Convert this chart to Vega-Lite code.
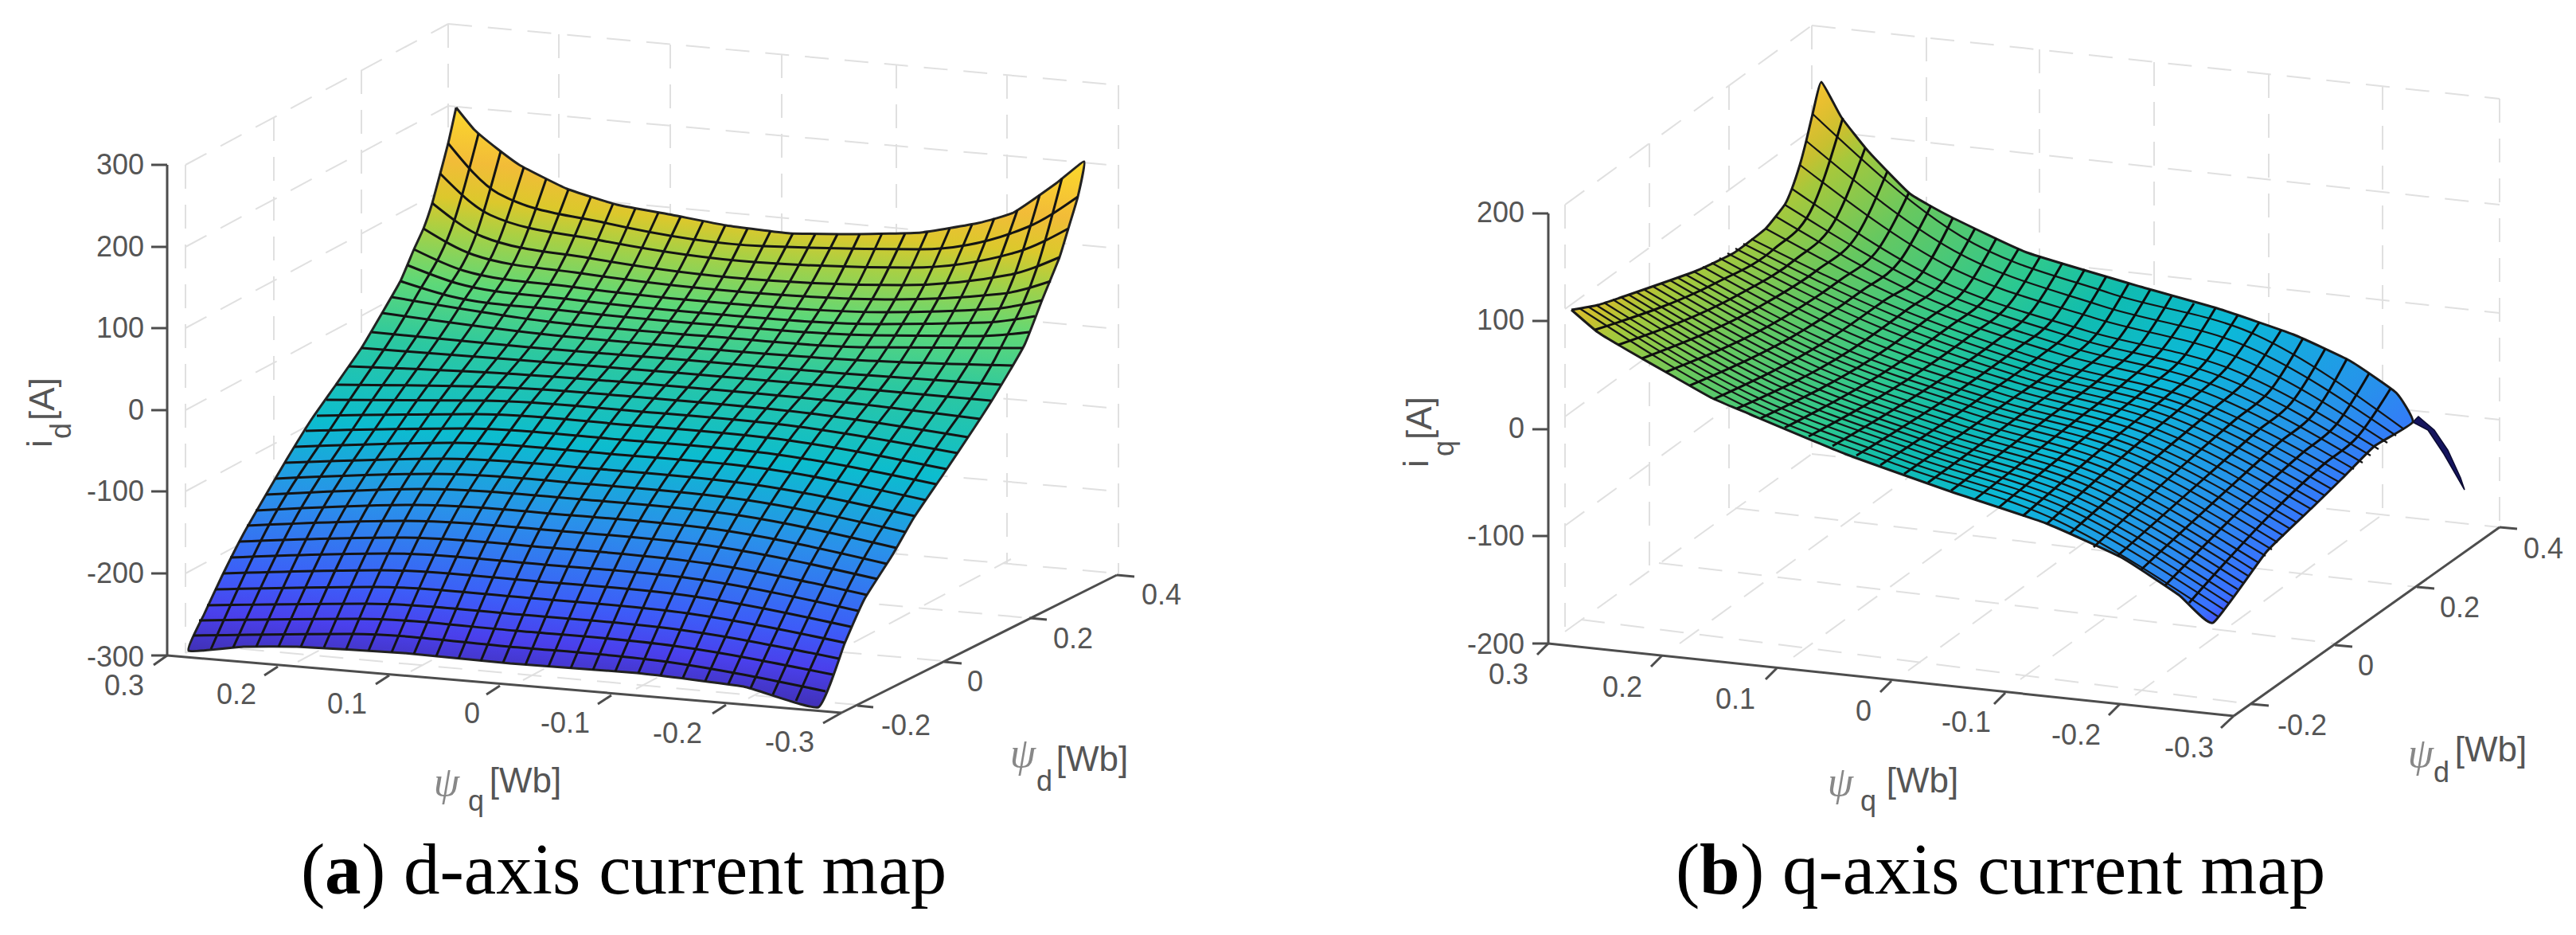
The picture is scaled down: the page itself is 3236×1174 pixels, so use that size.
{"$schema":"https://vega.github.io/schema/vega-lite/v6.json","width":3236,"height":1174,"padding":0,"autosize":{"type":"fit","contains":"padding"},"background":"#ffffff","config":{"view":{"stroke":null}},
"encoding":{"x":{"field":"x","type":"quantitative","scale":{"domain":[0,3236],"nice":false,"zero":false},"axis":null},"y":{"field":"y","type":"quantitative","scale":{"domain":[1174,0],"nice":false,"zero":false},"axis":null}},
"datasets":{
"box":[
{"l":"a1","x":233,"y":207},{"l":"a1","x":563,"y":30},{"l":"a2","x":233,"y":310},{"l":"a2","x":563,"y":133},{"l":"a3","x":233,"y":412},{"l":"a3","x":563,"y":235},{"l":"a4","x":233,"y":515},{"l":"a4","x":563,"y":338},{"l":"a5","x":233,"y":617},{"l":"a5","x":563,"y":440},{"l":"a6","x":233,"y":720},{"l":"a6","x":563,"y":543},{"l":"a7","x":233,"y":820},{"l":"a7","x":563,"y":646},
{"l":"a8","x":233,"y":207},{"l":"a8","x":233,"y":820},{"l":"a9","x":344,"y":147},{"l":"a9","x":344,"y":760},{"l":"a10","x":454,"y":88},{"l":"a10","x":454,"y":705},{"l":"a11","x":563,"y":30},{"l":"a11","x":563,"y":646},
{"l":"a12","x":563,"y":30},{"l":"a12","x":1405,"y":107},{"l":"a13","x":563,"y":133},{"l":"a13","x":1405,"y":208},{"l":"a14","x":563,"y":235},{"l":"a14","x":1405,"y":312},{"l":"a15","x":563,"y":338},{"l":"a15","x":1405,"y":413},{"l":"a16","x":563,"y":440},{"l":"a16","x":1405,"y":513},{"l":"a17","x":563,"y":543},{"l":"a17","x":1405,"y":617},{"l":"a18","x":563,"y":646},{"l":"a18","x":1405,"y":720},
{"l":"a19","x":702,"y":43},{"l":"a19","x":702,"y":658},{"l":"a20","x":842,"y":56},{"l":"a20","x":842,"y":671},{"l":"a21","x":982,"y":68},{"l":"a21","x":982,"y":683},{"l":"a22","x":1126,"y":81},{"l":"a22","x":1126,"y":696},{"l":"a23","x":1265,"y":94},{"l":"a23","x":1265,"y":708},{"l":"a24","x":1405,"y":107},{"l":"a24","x":1405,"y":720},
{"l":"a25","x":252,"y":810},{"l":"a25","x":1077,"y":885},{"l":"a26","x":355,"y":758},{"l":"a26","x":1186,"y":830},{"l":"a27","x":457,"y":700},{"l":"a27","x":1293,"y":776},{"l":"a28","x":374,"y":831},{"l":"a28","x":704,"y":656},{"l":"a29","x":516,"y":843},{"l":"a29","x":846,"y":668},{"l":"a30","x":657,"y":854},{"l":"a30","x":987,"y":679},{"l":"a31","x":799,"y":865},{"l":"a31","x":1129,"y":690},{"l":"a32","x":940,"y":877},{"l":"a32","x":1270,"y":702},
{"l":"b1","x":1966,"y":257},{"l":"b1","x":2276,"y":32},{"l":"b2","x":1966,"y":388},{"l":"b2","x":2276,"y":163},{"l":"b3","x":1966,"y":523},{"l":"b3","x":2276,"y":298},{"l":"b4","x":1966,"y":660},{"l":"b4","x":2276,"y":435},{"l":"b5","x":1966,"y":793},{"l":"b5","x":2276,"y":570},
{"l":"b6","x":1966,"y":257},{"l":"b6","x":1966,"y":793},{"l":"b7","x":2072,"y":180},{"l":"b7","x":2072,"y":716},{"l":"b8","x":2172,"y":108},{"l":"b8","x":2172,"y":645},{"l":"b9","x":2276,"y":32},{"l":"b9","x":2276,"y":570},
{"l":"b10","x":2276,"y":32},{"l":"b10","x":3140,"y":124},{"l":"b11","x":2276,"y":163},{"l":"b11","x":3140,"y":257},{"l":"b12","x":2276,"y":298},{"l":"b12","x":3140,"y":393},{"l":"b13","x":2276,"y":435},{"l":"b13","x":3140,"y":527},{"l":"b14","x":2276,"y":570},{"l":"b14","x":3140,"y":662},
{"l":"b15","x":2420,"y":47},{"l":"b15","x":2420,"y":585},{"l":"b16","x":2562,"y":62},{"l":"b16","x":2562,"y":600},{"l":"b17","x":2706,"y":78},{"l":"b17","x":2706,"y":616},{"l":"b18","x":2850,"y":93},{"l":"b18","x":2850,"y":631},{"l":"b19","x":2993,"y":108},{"l":"b19","x":2993,"y":646},{"l":"b20","x":3140,"y":124},{"l":"b20","x":3140,"y":662},
{"l":"b21","x":1986,"y":778},{"l":"b21","x":2828,"y":884},{"l":"b22","x":2084,"y":707},{"l":"b22","x":2933,"y":808},{"l":"b23","x":2180,"y":638},{"l":"b23","x":3036,"y":737},
{"l":"b24","x":2110,"y":808},{"l":"b24","x":2420,"y":583},{"l":"b25","x":2253,"y":825},{"l":"b25","x":2563,"y":600},{"l":"b26","x":2397,"y":842},{"l":"b26","x":2707,"y":617},{"l":"b27","x":2538,"y":853},{"l":"b27","x":2850,"y":628},{"l":"b28","x":2682,"y":873},{"l":"b28","x":2993,"y":646}
],
"axes":[
{"l":"a1","x":210,"y":207},{"l":"a1","x":210,"y":823},{"l":"a2","x":210,"y":823},{"l":"a2","x":1057,"y":895},{"l":"a3","x":1057,"y":895},{"l":"a3","x":1403,"y":722},
{"l":"at1","x":190,"y":207},{"l":"at1","x":210,"y":207},{"l":"at2","x":190,"y":310},{"l":"at2","x":210,"y":310},{"l":"at3","x":190,"y":412},{"l":"at3","x":210,"y":412},{"l":"at4","x":190,"y":515},{"l":"at4","x":210,"y":515},{"l":"at5","x":190,"y":617},{"l":"at5","x":210,"y":617},{"l":"at6","x":190,"y":720},{"l":"at6","x":210,"y":720},{"l":"at7","x":190,"y":823},{"l":"at7","x":210,"y":823},
{"l":"aq1","x":193,"y":835},{"l":"aq1","x":210,"y":823},{"l":"aq2","x":332,"y":848},{"l":"aq2","x":349,"y":837},{"l":"aq3","x":472,"y":859},{"l":"aq3","x":489,"y":848},{"l":"aq4","x":611,"y":872},{"l":"aq4","x":628,"y":861},{"l":"aq5","x":751,"y":884},{"l":"aq5","x":768,"y":873},{"l":"aq6","x":895,"y":896},{"l":"aq6","x":912,"y":885},{"l":"aq7","x":1034,"y":908},{"l":"aq7","x":1057,"y":895},
{"l":"ad1","x":1077,"y":886},{"l":"ad1","x":1097,"y":888},{"l":"ad2","x":1186,"y":831},{"l":"ad2","x":1208,"y":833},{"l":"ad3","x":1293,"y":776},{"l":"ad3","x":1315,"y":778},{"l":"ad4","x":1403,"y":722},{"l":"ad4","x":1425,"y":724},
{"l":"b1","x":1945,"y":268},{"l":"b1","x":1945,"y":808},{"l":"b2","x":1945,"y":808},{"l":"b2","x":2806,"y":899},{"l":"b3","x":2806,"y":899},{"l":"b3","x":3140,"y":662},
{"l":"bt1","x":1925,"y":268},{"l":"bt1","x":1945,"y":268},{"l":"bt2","x":1925,"y":403},{"l":"bt2","x":1945,"y":403},{"l":"bt3","x":1925,"y":539},{"l":"bt3","x":1945,"y":539},{"l":"bt4","x":1925,"y":673},{"l":"bt4","x":1945,"y":673},{"l":"bt5","x":1925,"y":808},{"l":"bt5","x":1945,"y":808},
{"l":"bq1","x":1931,"y":822},{"l":"bq1","x":1945,"y":808},{"l":"bq2","x":2074,"y":837},{"l":"bq2","x":2088,"y":823},{"l":"bq3","x":2218,"y":853},{"l":"bq3","x":2232,"y":839},{"l":"bq4","x":2362,"y":869},{"l":"bq4","x":2376,"y":855},{"l":"bq5","x":2505,"y":884},{"l":"bq5","x":2519,"y":870},{"l":"bq6","x":2649,"y":898},{"l":"bq6","x":2663,"y":884},{"l":"bq7","x":2790,"y":914},{"l":"bq7","x":2806,"y":899},
{"l":"bd1","x":2828,"y":884},{"l":"bd1","x":2850,"y":886},{"l":"bd2","x":2933,"y":810},{"l":"bd2","x":2955,"y":812},{"l":"bd3","x":3036,"y":737},{"l":"bd3","x":3058,"y":739},{"l":"bd4","x":3140,"y":662},{"l":"bd4","x":3162,"y":664}
],
"surfaceA":[{"x":573,"y":135},{"x":596,"y":163},{"x":625,"y":187},{"x":654,"y":208},{"x":712,"y":237},{"x":775,"y":257},{"x":845,"y":270},{"x":912,"y":283},{"x":992,"y":293},{"x":1077,"y":294},{"x":1157,"y":292},{"x":1229,"y":280},{"x":1273,"y":267},{"x":1327,"y":230},{"x":1362,"y":203},{"x":1354,"y":247},{"x":1342,"y":287},{"x":1331,"y":323},{"x":1309,"y":377},{"x":1287,"y":433},{"x":1249,"y":498},{"x":1224,"y":537},{"x":1184,"y":597},{"x":1148,"y":650},{"x":1121,"y":697},{"x":1086,"y":752},{"x":1061,"y":808},{"x":1028,"y":888},{"x":934,"y":862},{"x":800,"y":845},{"x":641,"y":833},{"x":507,"y":820},{"x":373,"y":812},{"x":306,"y":812},{"x":237,"y":817},{"x":257,"y":770},{"x":279,"y":723},{"x":306,"y":670},{"x":333,"y":623},{"x":360,"y":577},{"x":391,"y":527},{"x":422,"y":483},{"x":454,"y":437},{"x":480,"y":393},{"x":503,"y":353},{"x":520,"y":313},{"x":532,"y":287},{"x":543,"y":255},{"x":553,"y":218},{"x":563,"y":180},{"x":573,"y":135}],
"surfaceB":[{"x":1974,"y":389},{"x":2007,"y":417},{"x":2045,"y":440},{"x":2103,"y":473},{"x":2151,"y":500},{"x":2198,"y":520},{"x":2318,"y":570},{"x":2450,"y":617},{"x":2570,"y":657},{"x":2665,"y":700},{"x":2737,"y":747},{"x":2780,"y":782},{"x":2847,"y":693},{"x":2905,"y":637},{"x":2943,"y":600},{"x":2983,"y":560},{"x":3031,"y":530},{"x":3010,"y":493},{"x":2952,"y":453},{"x":2881,"y":420},{"x":2785,"y":387},{"x":2689,"y":360},{"x":2546,"y":317},{"x":2450,"y":272},{"x":2399,"y":243},{"x":2347,"y":190},{"x":2313,"y":147},{"x":2288,"y":103},{"x":2277,"y":143},{"x":2269,"y":177},{"x":2261,"y":207},{"x":2251,"y":237},{"x":2242,"y":257},{"x":2218,"y":287},{"x":2179,"y":317},{"x":2131,"y":340},{"x":2055,"y":367},{"x":2007,"y":383},{"x":1974,"y":389}],
"flapB":[{"x":3031,"y":530},{"x":3038,"y":523},{"x":3058,"y":540},{"x":3075,"y":565},{"x":3091,"y":600},{"x":3096,"y":615},{"x":3070,"y":570},{"x":3050,"y":540},{"x":3031,"y":530}],
"meshA":[
{"l":"r1","x":563,"y":180},{"l":"r1","x":626,"y":243},{"l":"r1","x":761,"y":280},{"l":"r1","x":958,"y":309},{"l":"r1","x":1156,"y":313},{"l":"r1","x":1291,"y":285},{"l":"r1","x":1354,"y":247},
{"l":"r2","x":553,"y":218},{"l":"r2","x":616,"y":270},{"l":"r2","x":750,"y":301},{"l":"r2","x":947,"y":329},{"l":"r2","x":1144,"y":336},{"l":"r2","x":1279,"y":316},{"l":"r2","x":1342,"y":287},
{"l":"r3","x":543,"y":255},{"l":"r3","x":606,"y":297},{"l":"r3","x":740,"y":324},{"l":"r3","x":937,"y":350},{"l":"r3","x":1134,"y":358},{"l":"r3","x":1268,"y":345},{"l":"r3","x":1331,"y":323},
{"l":"r4","x":532,"y":287},{"l":"r4","x":595,"y":320},{"l":"r4","x":729,"y":343},{"l":"r4","x":926,"y":366},{"l":"r4","x":1123,"y":376},{"l":"r4","x":1257,"y":369},{"l":"r4","x":1320,"y":353},
{"l":"r5","x":520,"y":313},{"l":"r5","x":583,"y":340},{"l":"r5","x":717,"y":360},{"l":"r5","x":915,"y":381},{"l":"r5","x":1112,"y":392},{"l":"r5","x":1246,"y":388},{"l":"r5","x":1309,"y":377},
{"l":"r6","x":512,"y":333},{"l":"r6","x":575,"y":356},{"l":"r6","x":709,"y":375},{"l":"r6","x":906,"y":395},{"l":"r6","x":1103,"y":407},{"l":"r6","x":1237,"y":405},{"l":"r6","x":1300,"y":397},
{"l":"r7","x":503,"y":353},{"l":"r7","x":566,"y":372},{"l":"r7","x":700,"y":389},{"l":"r7","x":898,"y":408},{"l":"r7","x":1096,"y":421},{"l":"r7","x":1230,"y":422},{"l":"r7","x":1293,"y":417},
{"l":"r8","x":492,"y":373},{"l":"r8","x":690,"y":404},{"l":"r8","x":888,"y":422},{"l":"r8","x":1087,"y":436},{"l":"r8","x":1285,"y":437},
{"l":"r9","x":480,"y":393},{"l":"r9","x":678,"y":419},{"l":"r9","x":876,"y":437},{"l":"r9","x":1074,"y":452},{"l":"r9","x":1272,"y":459},
{"l":"r10","x":467,"y":417},{"l":"r10","x":664,"y":436},{"l":"r10","x":862,"y":452},{"l":"r10","x":1060,"y":469},{"l":"r10","x":1257,"y":483},
{"l":"r11","x":454,"y":437},{"l":"r11","x":652,"y":452},{"l":"r11","x":850,"y":468},{"l":"r11","x":1047,"y":485},{"l":"r11","x":1245,"y":503},
{"l":"r12","x":438,"y":460},{"l":"r12","x":636,"y":469},{"l":"r12","x":835,"y":484},{"l":"r12","x":1033,"y":502},{"l":"r12","x":1231,"y":526},
{"l":"r13","x":422,"y":483},{"l":"r13","x":620,"y":486},{"l":"r13","x":819,"y":500},{"l":"r13","x":1017,"y":519},{"l":"r13","x":1216,"y":549},
{"l":"r14","x":410,"y":502},{"l":"r14","x":608,"y":503},{"l":"r14","x":807,"y":517},{"l":"r14","x":1005,"y":536},{"l":"r14","x":1203,"y":569},
{"l":"r15","x":398,"y":522},{"l":"r15","x":596,"y":520},{"l":"r15","x":794,"y":534},{"l":"r15","x":991,"y":553},{"l":"r15","x":1189,"y":589},
{"l":"r16","x":384,"y":541},{"l":"r16","x":582,"y":538},{"l":"r16","x":780,"y":552},{"l":"r16","x":978,"y":571},{"l":"r16","x":1176,"y":608},
{"l":"r17","x":370,"y":561},{"l":"r17","x":568,"y":556},{"l":"r17","x":767,"y":570},{"l":"r17","x":965,"y":589},{"l":"r17","x":1163,"y":628},
{"l":"r18","x":358,"y":581},{"l":"r18","x":556,"y":576},{"l":"r18","x":754,"y":589},{"l":"r18","x":951,"y":609},{"l":"r18","x":1149,"y":648},
{"l":"r19","x":346,"y":601},{"l":"r19","x":544,"y":595},{"l":"r19","x":742,"y":608},{"l":"r19","x":939,"y":628},{"l":"r19","x":1137,"y":668},
{"l":"r20","x":334,"y":621},{"l":"r20","x":532,"y":614},{"l":"r20","x":730,"y":627},{"l":"r20","x":928,"y":647},{"l":"r20","x":1126,"y":688},
{"l":"r21","x":321,"y":641},{"l":"r21","x":519,"y":634},{"l":"r21","x":718,"y":647},{"l":"r21","x":916,"y":667},{"l":"r21","x":1114,"y":708},
{"l":"r22","x":310,"y":660},{"l":"r22","x":508,"y":654},{"l":"r22","x":706,"y":667},{"l":"r22","x":904,"y":687},{"l":"r22","x":1102,"y":727},
{"l":"r23","x":300,"y":680},{"l":"r23","x":497,"y":675},{"l":"r23","x":695,"y":688},{"l":"r23","x":892,"y":708},{"l":"r23","x":1089,"y":747},
{"l":"r24","x":289,"y":700},{"l":"r24","x":486,"y":695},{"l":"r24","x":684,"y":709},{"l":"r24","x":881,"y":728},{"l":"r24","x":1078,"y":767},
{"l":"r25","x":280,"y":720},{"l":"r25","x":477,"y":716},{"l":"r25","x":675,"y":730},{"l":"r25","x":872,"y":749},{"l":"r25","x":1069,"y":787},
{"l":"r26","x":270,"y":740},{"l":"r26","x":468,"y":737},{"l":"r26","x":666,"y":751},{"l":"r26","x":863,"y":770},{"l":"r26","x":1061,"y":807},
{"l":"r27","x":260,"y":760},{"l":"r27","x":458,"y":758},{"l":"r27","x":657,"y":772},{"l":"r27","x":856,"y":791},{"l":"r27","x":1054,"y":827},
{"l":"r28","x":250,"y":779},{"l":"r28","x":449,"y":777},{"l":"r28","x":648,"y":792},{"l":"r28","x":847,"y":811},{"l":"r28","x":1046,"y":847},
{"l":"r29","x":243,"y":798},{"l":"r29","x":441,"y":796},{"l":"r29","x":640,"y":812},{"l":"r29","x":838,"y":831},{"l":"r29","x":1037,"y":868},
{"l":"c1","x":265,"y":815},{"l":"c1","x":338,"y":659},{"l":"c1","x":426,"y":522},{"l":"c1","x":520,"y":377},{"l":"c1","x":571,"y":276},{"l":"c1","x":601,"y":168},
{"l":"c2","x":293,"y":813},{"l":"c2","x":367,"y":658},{"l":"c2","x":455,"y":521},{"l":"c2","x":549,"y":382},{"l":"c2","x":599,"y":292},{"l":"c2","x":629,"y":190},
{"l":"c3","x":322,"y":812},{"l":"c3","x":395,"y":657},{"l":"c3","x":483,"y":521},{"l":"c3","x":577,"y":386},{"l":"c3","x":627,"y":301},{"l":"c3","x":658,"y":210},
{"l":"c4","x":350,"y":812},{"l":"c4","x":423,"y":657},{"l":"c4","x":511,"y":521},{"l":"c4","x":605,"y":391},{"l":"c4","x":656,"y":307},{"l":"c4","x":686,"y":225},
{"l":"c5","x":378,"y":812},{"l":"c5","x":451,"y":656},{"l":"c5","x":539,"y":521},{"l":"c5","x":633,"y":395},{"l":"c5","x":684,"y":313},{"l":"c5","x":714,"y":238},
{"l":"c6","x":407,"y":813},{"l":"c6","x":480,"y":655},{"l":"c6","x":568,"y":520},{"l":"c6","x":662,"y":400},{"l":"c6","x":712,"y":318},{"l":"c6","x":742,"y":248},
{"l":"c7","x":435,"y":815},{"l":"c7","x":508,"y":654},{"l":"c7","x":596,"y":520},{"l":"c7","x":690,"y":404},{"l":"c7","x":740,"y":324},{"l":"c7","x":770,"y":256},
{"l":"c8","x":463,"y":817},{"l":"c8","x":536,"y":656},{"l":"c8","x":624,"y":522},{"l":"c8","x":718,"y":407},{"l":"c8","x":768,"y":328},{"l":"c8","x":798,"y":262},
{"l":"c9","x":492,"y":819},{"l":"c9","x":565,"y":658},{"l":"c9","x":653,"y":524},{"l":"c9","x":747,"y":409},{"l":"c9","x":796,"y":332},{"l":"c9","x":827,"y":267},
{"l":"c10","x":520,"y":821},{"l":"c10","x":593,"y":660},{"l":"c10","x":681,"y":526},{"l":"c10","x":775,"y":412},{"l":"c10","x":824,"y":335},{"l":"c10","x":855,"y":272},
{"l":"c11","x":548,"y":824},{"l":"c11","x":621,"y":661},{"l":"c11","x":709,"y":528},{"l":"c11","x":803,"y":414},{"l":"c11","x":853,"y":339},{"l":"c11","x":883,"y":278},
{"l":"c12","x":576,"y":827},{"l":"c12","x":649,"y":663},{"l":"c12","x":737,"y":530},{"l":"c12","x":831,"y":417},{"l":"c12","x":881,"y":343},{"l":"c12","x":911,"y":283},
{"l":"c13","x":604,"y":830},{"l":"c13","x":678,"y":665},{"l":"c13","x":766,"y":532},{"l":"c13","x":860,"y":419},{"l":"c13","x":909,"y":346},{"l":"c13","x":939,"y":287},
{"l":"c14","x":632,"y":832},{"l":"c14","x":706,"y":667},{"l":"c14","x":794,"y":534},{"l":"c14","x":888,"y":422},{"l":"c14","x":937,"y":350},{"l":"c14","x":968,"y":290},
{"l":"c15","x":660,"y":835},{"l":"c15","x":734,"y":670},{"l":"c15","x":822,"y":537},{"l":"c15","x":916,"y":424},{"l":"c15","x":965,"y":351},{"l":"c15","x":996,"y":293},
{"l":"c16","x":689,"y":837},{"l":"c16","x":763,"y":673},{"l":"c16","x":850,"y":539},{"l":"c16","x":945,"y":426},{"l":"c16","x":993,"y":352},{"l":"c16","x":1024,"y":294},
{"l":"c17","x":717,"y":839},{"l":"c17","x":791,"y":676},{"l":"c17","x":879,"y":542},{"l":"c17","x":973,"y":428},{"l":"c17","x":1021,"y":353},{"l":"c17","x":1052,"y":294},
{"l":"c18","x":745,"y":841},{"l":"c18","x":819,"y":678},{"l":"c18","x":907,"y":545},{"l":"c18","x":1002,"y":430},{"l":"c18","x":1050,"y":355},{"l":"c18","x":1080,"y":294},
{"l":"c19","x":773,"y":843},{"l":"c19","x":847,"y":681},{"l":"c19","x":935,"y":547},{"l":"c19","x":1030,"y":432},{"l":"c19","x":1078,"y":356},{"l":"c19","x":1108,"y":293},
{"l":"c20","x":802,"y":845},{"l":"c20","x":876,"y":684},{"l":"c20","x":963,"y":550},{"l":"c20","x":1059,"y":434},{"l":"c20","x":1106,"y":357},{"l":"c20","x":1137,"y":293},
{"l":"c21","x":830,"y":848},{"l":"c21","x":904,"y":687},{"l":"c21","x":991,"y":553},{"l":"c21","x":1087,"y":436},{"l":"c21","x":1134,"y":358},{"l":"c21","x":1165,"y":291},
{"l":"c22","x":858,"y":851},{"l":"c22","x":932,"y":693},{"l":"c22","x":1019,"y":558},{"l":"c22","x":1115,"y":436},{"l":"c22","x":1162,"y":356},{"l":"c22","x":1193,"y":287},
{"l":"c23","x":886,"y":855},{"l":"c23","x":961,"y":698},{"l":"c23","x":1048,"y":563},{"l":"c23","x":1143,"y":436},{"l":"c23","x":1190,"y":353},{"l":"c23","x":1221,"y":282},
{"l":"c24","x":915,"y":859},{"l":"c24","x":989,"y":704},{"l":"c24","x":1076,"y":568},{"l":"c24","x":1172,"y":436},{"l":"c24","x":1218,"y":351},{"l":"c24","x":1249,"y":274},
{"l":"c25","x":943,"y":864},{"l":"c25","x":1017,"y":710},{"l":"c25","x":1104,"y":574},{"l":"c25","x":1200,"y":436},{"l":"c25","x":1247,"y":348},{"l":"c25","x":1278,"y":264},
{"l":"c26","x":971,"y":872},{"l":"c26","x":1045,"y":716},{"l":"c26","x":1132,"y":579},{"l":"c26","x":1228,"y":437},{"l":"c26","x":1275,"y":344},{"l":"c26","x":1306,"y":245},
{"l":"c27","x":1000,"y":880},{"l":"c27","x":1074,"y":721},{"l":"c27","x":1161,"y":584},{"l":"c27","x":1257,"y":437},{"l":"c27","x":1303,"y":335},{"l":"c27","x":1334,"y":224}
],
"longB":[
{"l":"j1","x":2277,"y":143},{"l":"j1","x":2464,"y":297},{"l":"j1","x":2650,"y":368},{"l":"j1","x":2835,"y":421},{"l":"j1","x":3020,"y":539},
{"l":"j2","x":2269,"y":177},{"l":"j2","x":2455,"y":315},{"l":"j2","x":2640,"y":384},{"l":"j2","x":2825,"y":436},{"l":"j2","x":3010,"y":547},
{"l":"j3","x":2261,"y":207},{"l":"j3","x":2445,"y":333},{"l":"j3","x":2630,"y":399},{"l":"j3","x":2814,"y":450},{"l":"j3","x":2999,"y":556},
{"l":"j4","x":2251,"y":237},{"l":"j4","x":2435,"y":351},{"l":"j4","x":2620,"y":415},{"l":"j4","x":2804,"y":464},{"l":"j4","x":2988,"y":564},
{"l":"j5","x":2242,"y":257},{"l":"j5","x":2423,"y":360},{"l":"j5","x":2609,"y":425},{"l":"j5","x":2793,"y":474},{"l":"j5","x":2978,"y":572},
{"l":"j6","x":2231,"y":272},{"l":"j6","x":2411,"y":370},{"l":"j6","x":2597,"y":435},{"l":"j6","x":2782,"y":484},{"l":"j6","x":2968,"y":581},
{"l":"j7","x":2218,"y":287},{"l":"j7","x":2399,"y":379},{"l":"j7","x":2586,"y":444},{"l":"j7","x":2771,"y":493},{"l":"j7","x":2957,"y":589},
{"l":"j8","x":2200,"y":300},{"l":"j8","x":2387,"y":388},{"l":"j8","x":2574,"y":454},{"l":"j8","x":2760,"y":503},{"l":"j8","x":2947,"y":597},
{"l":"j9","x":2190,"y":306},{"l":"j9","x":2377,"y":395},{"l":"j9","x":2564,"y":461},{"l":"j9","x":2751,"y":511},{"l":"j9","x":2938,"y":605},
{"l":"j10","x":2180,"y":312},{"l":"j10","x":2367,"y":402},{"l":"j10","x":2555,"y":468},{"l":"j10","x":2742,"y":518},{"l":"j10","x":2929,"y":614},
{"l":"j11","x":2170,"y":318},{"l":"j11","x":2357,"y":409},{"l":"j11","x":2545,"y":475},{"l":"j11","x":2733,"y":526},{"l":"j11","x":2920,"y":622},
{"l":"j12","x":2160,"y":324},{"l":"j12","x":2347,"y":417},{"l":"j12","x":2535,"y":481},{"l":"j12","x":2723,"y":533},{"l":"j12","x":2912,"y":631},
{"l":"j13","x":2150,"y":330},{"l":"j13","x":2337,"y":424},{"l":"j13","x":2525,"y":488},{"l":"j13","x":2714,"y":541},{"l":"j13","x":2903,"y":639},
{"l":"j14","x":2139,"y":335},{"l":"j14","x":2327,"y":431},{"l":"j14","x":2516,"y":495},{"l":"j14","x":2705,"y":548},{"l":"j14","x":2894,"y":648},
{"l":"j15","x":2128,"y":341},{"l":"j15","x":2317,"y":438},{"l":"j15","x":2506,"y":502},{"l":"j15","x":2696,"y":556},{"l":"j15","x":2885,"y":656},
{"l":"j16","x":2118,"y":345},{"l":"j16","x":2307,"y":443},{"l":"j16","x":2497,"y":508},{"l":"j16","x":2688,"y":563},{"l":"j16","x":2877,"y":664},
{"l":"j17","x":2108,"y":349},{"l":"j17","x":2298,"y":448},{"l":"j17","x":2488,"y":514},{"l":"j17","x":2679,"y":570},{"l":"j17","x":2869,"y":673},
{"l":"j18","x":2098,"y":352},{"l":"j18","x":2288,"y":453},{"l":"j18","x":2479,"y":520},{"l":"j18","x":2671,"y":577},{"l":"j18","x":2861,"y":681},
{"l":"j19","x":2087,"y":356},{"l":"j19","x":2279,"y":459},{"l":"j19","x":2470,"y":527},{"l":"j19","x":2662,"y":585},{"l":"j19","x":2854,"y":690},
{"l":"j20","x":2077,"y":360},{"l":"j20","x":2269,"y":464},{"l":"j20","x":2461,"y":533},{"l":"j20","x":2654,"y":592},{"l":"j20","x":2846,"y":698},
{"l":"j21","x":2066,"y":364},{"l":"j21","x":2260,"y":469},{"l":"j21","x":2452,"y":539},{"l":"j21","x":2645,"y":599},{"l":"j21","x":2838,"y":707},
{"l":"j22","x":2056,"y":367},{"l":"j22","x":2250,"y":474},{"l":"j22","x":2443,"y":545},{"l":"j22","x":2637,"y":606},{"l":"j22","x":2830,"y":715},
{"l":"j23","x":2046,"y":370},{"l":"j23","x":2241,"y":479},{"l":"j23","x":2435,"y":551},{"l":"j23","x":2630,"y":613},{"l":"j23","x":2824,"y":723},
{"l":"j24","x":2036,"y":373},{"l":"j24","x":2231,"y":483},{"l":"j24","x":2427,"y":556},{"l":"j24","x":2622,"y":620},{"l":"j24","x":2818,"y":732},
{"l":"j25","x":2026,"y":376},{"l":"j25","x":2222,"y":488},{"l":"j25","x":2418,"y":562},{"l":"j25","x":2615,"y":627},{"l":"j25","x":2811,"y":740},
{"l":"j26","x":2015,"y":380},{"l":"j26","x":2212,"y":492},{"l":"j26","x":2410,"y":567},{"l":"j26","x":2607,"y":634},{"l":"j26","x":2805,"y":749},
{"l":"j27","x":2005,"y":383},{"l":"j27","x":2203,"y":497},{"l":"j27","x":2402,"y":573},{"l":"j27","x":2600,"y":640},{"l":"j27","x":2799,"y":757},
{"l":"j28","x":1995,"y":385},{"l":"j28","x":2194,"y":501},{"l":"j28","x":2394,"y":579},{"l":"j28","x":2593,"y":647},{"l":"j28","x":2793,"y":765},
{"l":"j29","x":1984,"y":387},{"l":"j29","x":2184,"y":506},{"l":"j29","x":2385,"y":584},{"l":"j29","x":2585,"y":654},{"l":"j29","x":2786,"y":774}
],
"shortB":[
{"l":"i1","x":2004,"y":414},{"l":"i1","x":2156,"y":355},{"l":"i1","x":2228,"y":313},{"l":"i1","x":2278,"y":258},{"l":"i1","x":2315,"y":148},
{"l":"i2","x":2033,"y":433},{"l":"i2","x":2184,"y":370},{"l":"i2","x":2255,"y":326},{"l":"i2","x":2305,"y":277},{"l":"i2","x":2343,"y":186},
{"l":"i3","x":2063,"y":450},{"l":"i3","x":2212,"y":384},{"l":"i3","x":2283,"y":339},{"l":"i3","x":2333,"y":295},{"l":"i3","x":2371,"y":215},
{"l":"i4","x":2093,"y":467},{"l":"i4","x":2240,"y":399},{"l":"i4","x":2311,"y":352},{"l":"i4","x":2360,"y":312},{"l":"i4","x":2398,"y":242},
{"l":"i5","x":2123,"y":484},{"l":"i5","x":2268,"y":413},{"l":"i5","x":2339,"y":365},{"l":"i5","x":2387,"y":327},{"l":"i5","x":2426,"y":258},
{"l":"i6","x":2153,"y":501},{"l":"i6","x":2296,"y":427},{"l":"i6","x":2366,"y":378},{"l":"i6","x":2415,"y":342},{"l":"i6","x":2453,"y":274},
{"l":"i7","x":2182,"y":513},{"l":"i7","x":2324,"y":440},{"l":"i7","x":2394,"y":390},{"l":"i7","x":2442,"y":352},{"l":"i7","x":2481,"y":287},
{"l":"i8","x":2212,"y":525},{"l":"i8","x":2352,"y":450},{"l":"i8","x":2422,"y":400},{"l":"i8","x":2469,"y":363},{"l":"i8","x":2508,"y":299},
{"l":"i9","x":2242,"y":537},{"l":"i9","x":2380,"y":459},{"l":"i9","x":2449,"y":410},{"l":"i9","x":2497,"y":372},{"l":"i9","x":2536,"y":312},
{"l":"i10","x":2272,"y":548},{"l":"i10","x":2408,"y":469},{"l":"i10","x":2477,"y":420},{"l":"i10","x":2524,"y":382},{"l":"i10","x":2563,"y":322},
{"l":"i11","x":2302,"y":560},{"l":"i11","x":2436,"y":478},{"l":"i11","x":2505,"y":430},{"l":"i11","x":2552,"y":391},{"l":"i11","x":2591,"y":330},
{"l":"i12","x":2332,"y":572},{"l":"i12","x":2464,"y":488},{"l":"i12","x":2532,"y":439},{"l":"i12","x":2579,"y":401},{"l":"i12","x":2619,"y":338},
{"l":"i13","x":2362,"y":584},{"l":"i13","x":2492,"y":497},{"l":"i13","x":2560,"y":449},{"l":"i13","x":2606,"y":410},{"l":"i13","x":2646,"y":347},
{"l":"i14","x":2392,"y":595},{"l":"i14","x":2520,"y":506},{"l":"i14","x":2588,"y":458},{"l":"i14","x":2634,"y":419},{"l":"i14","x":2674,"y":356},
{"l":"i15","x":2422,"y":606},{"l":"i15","x":2548,"y":514},{"l":"i15","x":2615,"y":465},{"l":"i15","x":2661,"y":426},{"l":"i15","x":2701,"y":364},
{"l":"i16","x":2451,"y":616},{"l":"i16","x":2576,"y":522},{"l":"i16","x":2643,"y":472},{"l":"i16","x":2688,"y":433},{"l":"i16","x":2728,"y":372},
{"l":"i17","x":2481,"y":627},{"l":"i17","x":2605,"y":530},{"l":"i17","x":2671,"y":479},{"l":"i17","x":2715,"y":440},{"l":"i17","x":2756,"y":381},
{"l":"i18","x":2511,"y":637},{"l":"i18","x":2633,"y":538},{"l":"i18","x":2698,"y":487},{"l":"i18","x":2743,"y":448},{"l":"i18","x":2783,"y":387},
{"l":"i19","x":2541,"y":648},{"l":"i19","x":2661,"y":546},{"l":"i19","x":2726,"y":494},{"l":"i19","x":2770,"y":455},{"l":"i19","x":2811,"y":396},
{"l":"i20","x":2571,"y":658},{"l":"i20","x":2689,"y":554},{"l":"i20","x":2753,"y":501},{"l":"i20","x":2797,"y":462},{"l":"i20","x":2838,"y":405},
{"l":"i21","x":2600,"y":670},{"l":"i21","x":2717,"y":567},{"l":"i21","x":2781,"y":513},{"l":"i21","x":2824,"y":475},{"l":"i21","x":2866,"y":414},
{"l":"i22","x":2630,"y":687},{"l":"i22","x":2745,"y":582},{"l":"i22","x":2808,"y":527},{"l":"i22","x":2852,"y":490},{"l":"i22","x":2893,"y":425},
{"l":"i23","x":2660,"y":698},{"l":"i23","x":2773,"y":597},{"l":"i23","x":2836,"y":541},{"l":"i23","x":2879,"y":505},{"l":"i23","x":2921,"y":438},
{"l":"i24","x":2690,"y":715},{"l":"i24","x":2801,"y":612},{"l":"i24","x":2864,"y":555},{"l":"i24","x":2906,"y":520},{"l":"i24","x":2948,"y":451},
{"l":"i25","x":2720,"y":735},{"l":"i25","x":2829,"y":626},{"l":"i25","x":2892,"y":569},{"l":"i25","x":2934,"y":534},{"l":"i25","x":2976,"y":469},
{"l":"i26","x":2750,"y":757},{"l":"i26","x":2857,"y":641},{"l":"i26","x":2919,"y":583},{"l":"i26","x":2961,"y":549},{"l":"i26","x":3003,"y":488}
],
"zLabels":[{"t":"300","x":181,"y":208},{"t":"200","x":181,"y":311},{"t":"100","x":181,"y":413},{"t":"0","x":181,"y":516},{"t":"-100","x":181,"y":618},{"t":"-200","x":181,"y":721},{"t":"-300","x":181,"y":826},{"t":"200","x":1915,"y":268},{"t":"100","x":1915,"y":403},{"t":"0","x":1915,"y":539},{"t":"-100","x":1915,"y":674},{"t":"-200","x":1915,"y":810}],
"tickLabels":[{"t":"0.3","x":156,"y":862},{"t":"0.2","x":297,"y":873},{"t":"0.1","x":436,"y":885},{"t":"0","x":593,"y":897},{"t":"-0.1","x":710,"y":909},{"t":"-0.2","x":851,"y":922},{"t":"-0.3","x":992,"y":933},{"t":"-0.2","x":1138,"y":912},{"t":"0","x":1225,"y":857},{"t":"0.2","x":1348,"y":803},{"t":"0.4","x":1459,"y":748},
{"t":"0.3","x":1895,"y":848},{"t":"0.2","x":2038,"y":864},{"t":"0.1","x":2180,"y":879},{"t":"0","x":2341,"y":894},{"t":"-0.1","x":2470,"y":908},{"t":"-0.2","x":2608,"y":924},{"t":"-0.3","x":2750,"y":940},{"t":"-0.2","x":2892,"y":912},{"t":"0","x":2972,"y":837},{"t":"0.2","x":3090,"y":764},{"t":"0.4","x":3195,"y":690}],
"psi":[{"t":"ψ","x":561,"y":983},{"t":"ψ","x":1285,"y":947},{"t":"ψ","x":2312,"y":983},{"t":"ψ","x":3041,"y":947}],
"titles":[{"t":"[Wb]","x":660,"y":982},{"t":"[Wb]","x":1372,"y":955},{"t":"[Wb]","x":2415,"y":982},{"t":"[Wb]","x":3129,"y":943}],
"subs":[{"t":"q","x":598,"y":1007},{"t":"d","x":1312,"y":982},{"t":"q","x":2347,"y":1007},{"t":"d","x":3067,"y":971}],
"vTitles":[{"t":"[A]","x":55,"y":501},{"t":"i","x":52,"y":557},{"t":"[A]","x":1785,"y":525},{"t":"i","x":1781,"y":582}],
"vSubs":[{"t":"d","x":78,"y":541},{"t":"q","x":1815,"y":563}],
"captions":[{"t":"(","x":378,"y":1122},{"t":") d-axis current map","x":454,"y":1122},{"t":"(","x":2105,"y":1122},{"t":") q-axis current map","x":2186,"y":1122}],
"captionsBold":[{"t":"a","x":408,"y":1122},{"t":"b","x":2135,"y":1122}]
},
"layer":[
{"data":{"name":"box"},"mark":{"type":"line","stroke":"#e0e0e0","strokeWidth":2,"strokeDash":[30,20]},"encoding":{"detail":{"field":"l"}}},
{"data":{"name":"axes"},"mark":{"type":"line","stroke":"#4d4d4d","strokeWidth":3},"encoding":{"detail":{"field":"l"}}},
{"data":{"name":"flapB"},"mark":{"type":"line","order":false,"fill":"#14145e","stroke":"#0a0a30","strokeWidth":1.5},"encoding":{}},
{"data":{"name":"surfaceA"},"mark":{"type":"line","order":false,"interpolate":"cardinal","tension":0.6,"stroke":"#222222","strokeWidth":3,"fill":{"gradient":"linear","x1":0.0067,"y1":-0.05,"x2":-0.12,"y2":0.892,"stops":[{"offset":0.01,"color":"#fcd82c"},{"offset":0.105,"color":"#f2bc38"},{"offset":0.17,"color":"#dcc82c"},{"offset":0.226,"color":"#a8d044"},{"offset":0.32,"color":"#5ed878"},{"offset":0.426,"color":"#2cc8a0"},{"offset":0.578,"color":"#0cbccf"},{"offset":0.716,"color":"#2a90ea"},{"offset":0.861,"color":"#3d5cf8"},{"offset":0.928,"color":"#4a40ec"},{"offset":1,"color":"#4030b4"}]}},"encoding":{}},
{"data":{"name":"surfaceB"},"mark":{"type":"line","order":false,"interpolate":"cardinal","tension":0.6,"stroke":"#1a1a1a","strokeWidth":3,"fill":{"gradient":"linear","x1":0.152,"y1":0.13,"x2":0.95,"y2":0.8125,"stops":[{"offset":0,"color":"#fdc92f"},{"offset":0.05,"color":"#e8bf30"},{"offset":0.1,"color":"#c8c030"},{"offset":0.134,"color":"#a6c83c"},{"offset":0.25,"color":"#66c860"},{"offset":0.42,"color":"#2cc890"},{"offset":0.52,"color":"#10bcb0"},{"offset":0.66,"color":"#0cb8d8"},{"offset":0.85,"color":"#2890ec"},{"offset":0.96,"color":"#3a70ff"},{"offset":1,"color":"#4d3cf5"}]}},"encoding":{}},
{"data":{"name":"meshA"},"mark":{"type":"line","interpolate":"monotone","stroke":"#141414","strokeWidth":3},"encoding":{"detail":{"field":"l"}}},
{"data":{"name":"longB"},"mark":{"type":"line","interpolate":"monotone","stroke":"#141414","strokeWidth":2.2},"encoding":{"detail":{"field":"l"}}},
{"data":{"name":"shortB"},"mark":{"type":"line","interpolate":"monotone","stroke":"#0e0e0e","strokeWidth":3},"encoding":{"detail":{"field":"l"}}},
{"data":{"name":"zLabels"},"mark":{"type":"text","font":"Liberation Sans","fontSize":36,"align":"right","baseline":"middle","fill":"#555555"},"encoding":{"text":{"field":"t"}}},
{"data":{"name":"tickLabels"},"mark":{"type":"text","font":"Liberation Sans","fontSize":36,"align":"center","baseline":"middle","fill":"#555555"},"encoding":{"text":{"field":"t"}}},
{"data":{"name":"titles"},"mark":{"type":"text","font":"Liberation Sans","fontSize":44,"align":"center","baseline":"middle","fill":"#555555"},"encoding":{"text":{"field":"t"}}},
{"data":{"name":"subs"},"mark":{"type":"text","font":"Liberation Sans","fontSize":36,"align":"center","baseline":"middle","fill":"#555555"},"encoding":{"text":{"field":"t"}}},
{"data":{"name":"psi"},"mark":{"type":"text","font":"Liberation Serif","fontStyle":"italic","fontSize":52,"align":"center","baseline":"middle","fill":"#888888"},"encoding":{"text":{"field":"t"}}},
{"data":{"name":"vTitles"},"mark":{"type":"text","font":"Liberation Sans","fontSize":44,"angle":270,"align":"center","baseline":"middle","fill":"#555555"},"encoding":{"text":{"field":"t"}}},
{"data":{"name":"vSubs"},"mark":{"type":"text","font":"Liberation Sans","fontSize":36,"angle":270,"align":"center","baseline":"middle","fill":"#555555"},"encoding":{"text":{"field":"t"}}},
{"data":{"name":"captions"},"mark":{"type":"text","font":"Liberation Serif","fontSize":91,"align":"left","baseline":"alphabetic","fill":"#000000"},"encoding":{"text":{"field":"t"}}},
{"data":{"name":"captionsBold"},"mark":{"type":"text","font":"Liberation Serif","fontWeight":"bold","fontSize":91,"align":"left","baseline":"alphabetic","fill":"#000000"},"encoding":{"text":{"field":"t"}}}
]}
